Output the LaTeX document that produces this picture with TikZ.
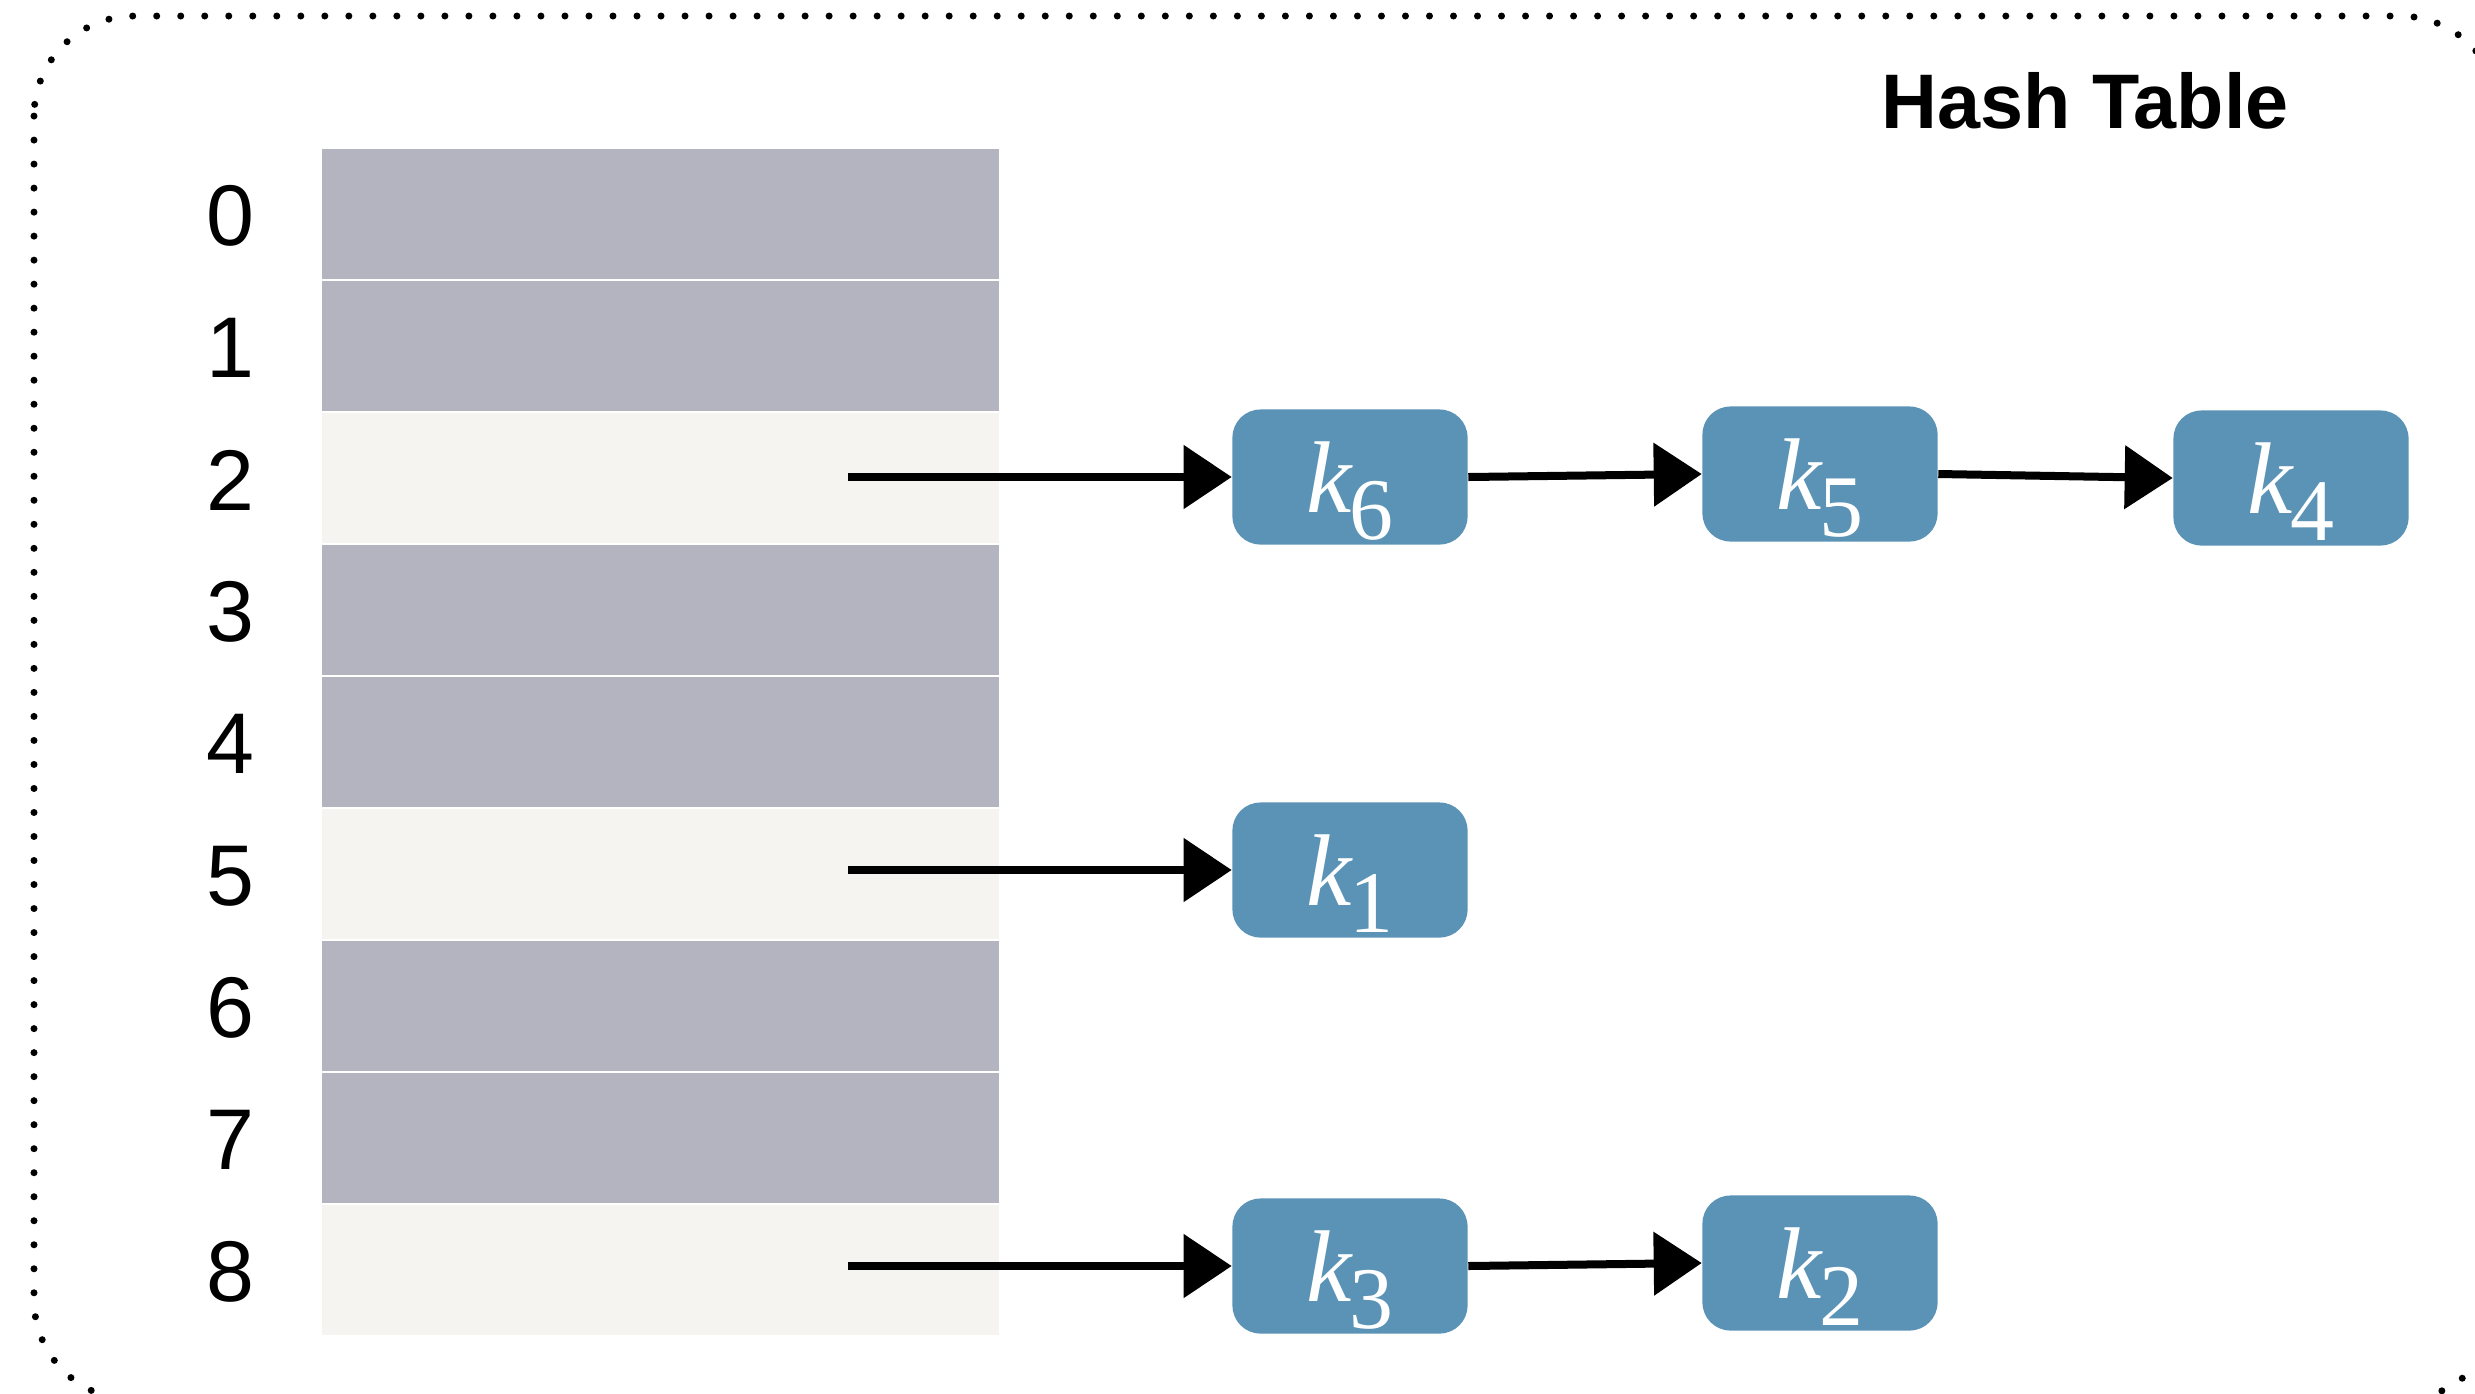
\documentclass[tikz,border=0pt]{standalone}
\usepackage{fontspec}
\newfontfamily\labelsans{Liberation Sans}
\newfontfamily\keyserif{Liberation Serif}
\usetikzlibrary{arrows.meta}

\definecolor{slotgrey}{HTML}{B4B4C1}
\definecolor{slotused}{HTML}{F5F4F0}
\definecolor{keyblue}{HTML}{5A93B5}

% key label: italic k with a large, lowered index
\newcommand{\keylabel}[1]{{\keyserif\itshape k}\kern-0.02em\smash{\raisebox{-0.27cm}{\keyserif\fontsize{25}{25}\selectfont #1}}}

\tikzset{
  slot/.style={draw=none, inner sep=0pt, minimum width=6.77cm, minimum height=1.29cm},
  index/.style={font=\labelsans\fontsize{24.5}{28}\selectfont, inner sep=0pt},
  keybox/.style={fill=keyblue, rounded corners=0.28cm, inner sep=0pt,
    minimum width=2.35cm, minimum height=1.35cm, text=white,
    font=\fontsize{29}{31}\selectfont},
  link/.style={line width=0.08cm, -{Triangle[length=0.48cm,width=0.62cm]}},
  frame/.style={line width=0.07cm, line cap=round, dash pattern=on 0pt off 0.24cm,
    rounded corners=1cm},
  heading/.style={font=\labelsans\bfseries\fontsize{22}{26}\selectfont, inner sep=0pt}
}

\begin{document}
\begin{tikzpicture}[x=0.01cm, y=-0.01cm]
  \useasboundingbox (0,0) rectangle (2475,1393);

  % dotted outer frame, running past the page edge on the right and bottom
  \begin{scope}
    \clip (0,0) rectangle (2475,1393);
    \draw[frame] (34,16) rectangle (2500,1400);
  \end{scope}

  \node[heading] (title) at (2085,101) {Hash Table};

  % bucket array
  \foreach \i in {0,...,8} {
    \pgfmathsetmacro{\yc}{214+132*\i}
    \ifnum\i=2 \def\slotfill{slotused}\else
      \ifnum\i=5 \def\slotfill{slotused}\else
        \ifnum\i=8 \def\slotfill{slotused}\else \def\slotfill{slotgrey}\fi\fi\fi
    \node[slot, fill=\slotfill] (r\i) at (660.5,\yc) {};
    \node[index] (n\i) at (230,\yc+2) {\i};
  }

  % chained keys
  \node[keybox] (k6) at (1350,477) {\keylabel{6}};
  \node[keybox] (k5) at (1820,474) {\keylabel{5}};
  \node[keybox] (k4) at (2291,478) {\keylabel{4}};
  \node[keybox] (k1) at (1350,870) {\keylabel{1}};
  \node[keybox] (k3) at (1350,1266) {\keylabel{3}};
  \node[keybox] (k2) at (1820,1263) {\keylabel{2}};

  % bucket pointers
  \coordinate (s2) at (848,477);
  \coordinate (s5) at (848,870);
  \coordinate (s8) at (848,1266);
  \draw[link] (s2) -- (k6.west);
  \draw[link] (s5) -- (k1.west);
  \draw[link] (s8) -- (k3.west);

  % next pointers
  \draw[link] (k6.east) -- (k5.west);
  \draw[link] (k5.east) -- (k4.west);
  \draw[link] (k3.east) -- (k2.west);
\end{tikzpicture}
\end{document}
